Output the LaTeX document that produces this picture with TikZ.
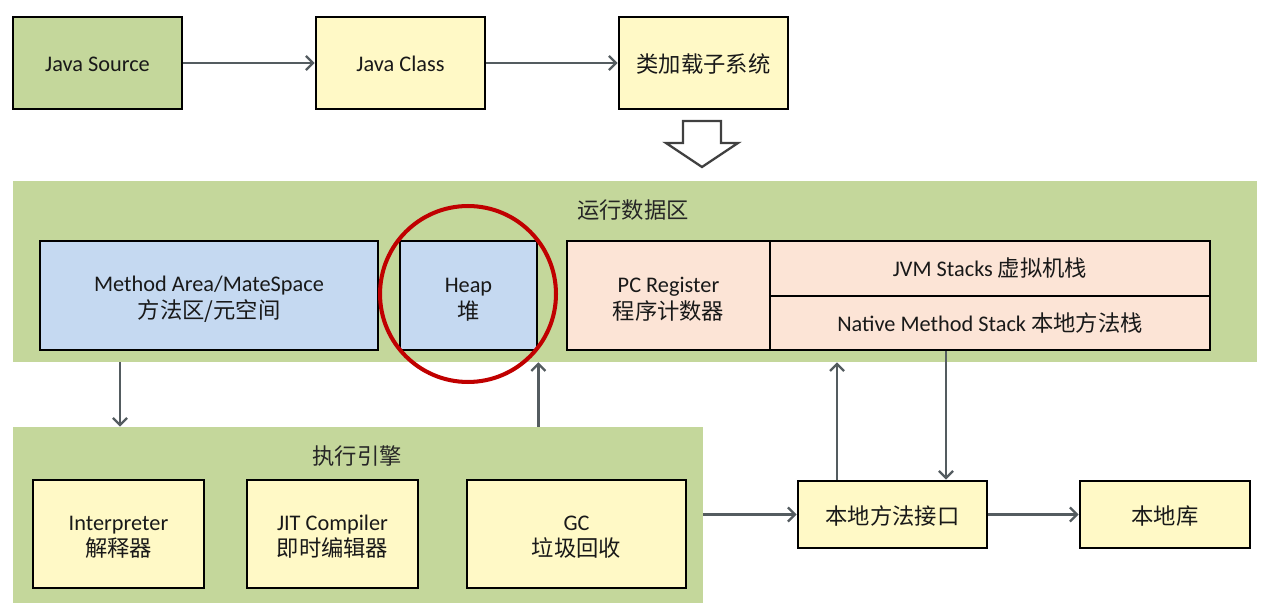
\documentclass[tikz,border=0pt]{standalone}
\usepackage{fontspec}
\setmainfont{Carlito}
\newfontfamily\zh{Noto Sans CJK SC}
\usepackage{tikz}
\usetikzlibrary{arrows.meta, shapes.geometric}
\definecolor{leaf}{RGB}{196,215,155}
\definecolor{cream}{RGB}{255,249,198}
\definecolor{sky}{RGB}{197,217,241}
\definecolor{peach}{RGB}{252,228,214}
\definecolor{wire}{RGB}{84,92,96}
\definecolor{ringred}{RGB}{192,0,0}
\tikzstyle{box} = [rectangle, draw=black, line width=1.6pt, align=center, text=black!90, font=\fontsize{12.7}{15}\selectfont, inner sep=0pt]
\tikzstyle{pair} = [text height=28pt]
\tikzstyle{lowpair} = [text height=26.5pt]
\tikzstyle{panel} = [rectangle, fill=leaf, inner sep=0pt]
\tikzstyle{title} = [text=black!85, font=\fontsize{12.7}{15}\selectfont\zh]
\tikzstyle{arrow} = [line width=1.3pt, draw=wire, -{Straight Barb[length=4pt,width=8pt,line width=1.3pt]}]

\begin{document}
\begin{tikzpicture}[x=0.02cm, y=-0.02cm]
		\useasboundingbox (0,0) rectangle (1282,611);
		
		% Top row
		\node (src) [box, fill=leaf, minimum width=3.38cm, minimum height=1.84cm, text height=10pt] at (97.5,63) {Java Source};
		\node (cls) [box, fill=cream, minimum width=3.38cm, minimum height=1.84cm, text height=10pt] at (400.5,63) {Java Class};
		\node (loader) [box, fill=cream, minimum width=3.38cm, minimum height=1.84cm, text height=12pt] at (703.5,63) {\zh 类加载子系统};
		
		% Hollow arrow
		\draw [line width=1.3pt, draw=black!75, fill=white, line join=miter]
			(683,121) -- (721,121) -- (721,143) -- (738,143) -- (702,167) -- (666,143) -- (683,143) -- cycle;
		
		% Runtime data area
		\node (rda) [panel, minimum width=24.88cm, minimum height=3.62cm] at (635,271.5) {};
		\node (rdatitle) [title] at (633,210) {运行数据区};
		\node (method) [box, pair, fill=sky, minimum width=6.76cm, minimum height=2.18cm] at (209,295.5) {Method Area/MateSpace\\{\zh 方法区/元空间}};
		\node (heap) [box, pair, fill=sky, minimum width=2.74cm, minimum height=2.18cm] at (468.5,295.5) {Heap\\{\zh 堆}};
		\node (pc) [box, pair, fill=peach, minimum width=4.06cm, minimum height=2.18cm] at (668.5,295.5) {PC Register\\{\zh 程序计数器}};
		\node (jvm) [box, fill=peach, minimum width=8.8cm, minimum height=1.1cm] at (990,268.5) {JVM Stacks {\zh 虚拟机栈}};
		\node (native) [box, fill=peach, minimum width=8.8cm, minimum height=1.08cm, text height=11pt] at (990,323) {Native Method Stack {\zh 本地方法栈}};
		\node (ring) [circle, draw=ringred, line width=2.3pt, minimum size=3.52cm] at (468,294) {};
		
		% Execution engine
		\node (exec) [panel, minimum width=13.8cm, minimum height=3.52cm] at (358,515) {};
		\node (exectitle) [title] at (357,456) {执行引擎};
		\node (interp) [box, lowpair, fill=cream, minimum width=3.42cm, minimum height=2.16cm] at (118.5,534) {Interpreter\\{\zh 解释器}};
		\node (jit) [box, lowpair, fill=cream, minimum width=3.42cm, minimum height=2.16cm] at (332.5,534) {JIT Compiler\\{\zh 即时编辑器}};
		\node (gc) [box, lowpair, fill=cream, minimum width=4.38cm, minimum height=2.16cm] at (576.5,534) {GC\\{\zh 垃圾回收}};
		
		% Native side
		\node (nmi) [box, fill=cream, minimum width=3.78cm, minimum height=1.34cm, text height=12pt] at (892.5,514.5) {\zh 本地方法接口};
		\node (lib) [box, fill=cream, minimum width=3.4cm, minimum height=1.34cm, text height=12pt] at (1165,514.5) {\zh 本地库};
		
		\coordinate (mx) at (120,0);
		\coordinate (ux) at (837,0);
		\coordinate (dx) at (946,0);
		
		% Arrows
		\draw [arrow] (src) -- (cls);
		\draw [arrow] (cls) -- (loader);
		\draw [arrow] (rda.south -| mx) -- (exec.north -| mx);
		\draw [arrow] (exec.north -| heap.east) -- (rda.south -| heap.east);
		\draw [arrow] (exec.east |- nmi.west) -- (nmi.west);
		\draw [arrow] (nmi.north -| ux) -- (rda.south -| ux);
		\draw [arrow] (native.south -| dx) -- (nmi.north -| dx);
		\draw [arrow] (nmi) -- (lib);
		
	\end{tikzpicture}
\end{document}
